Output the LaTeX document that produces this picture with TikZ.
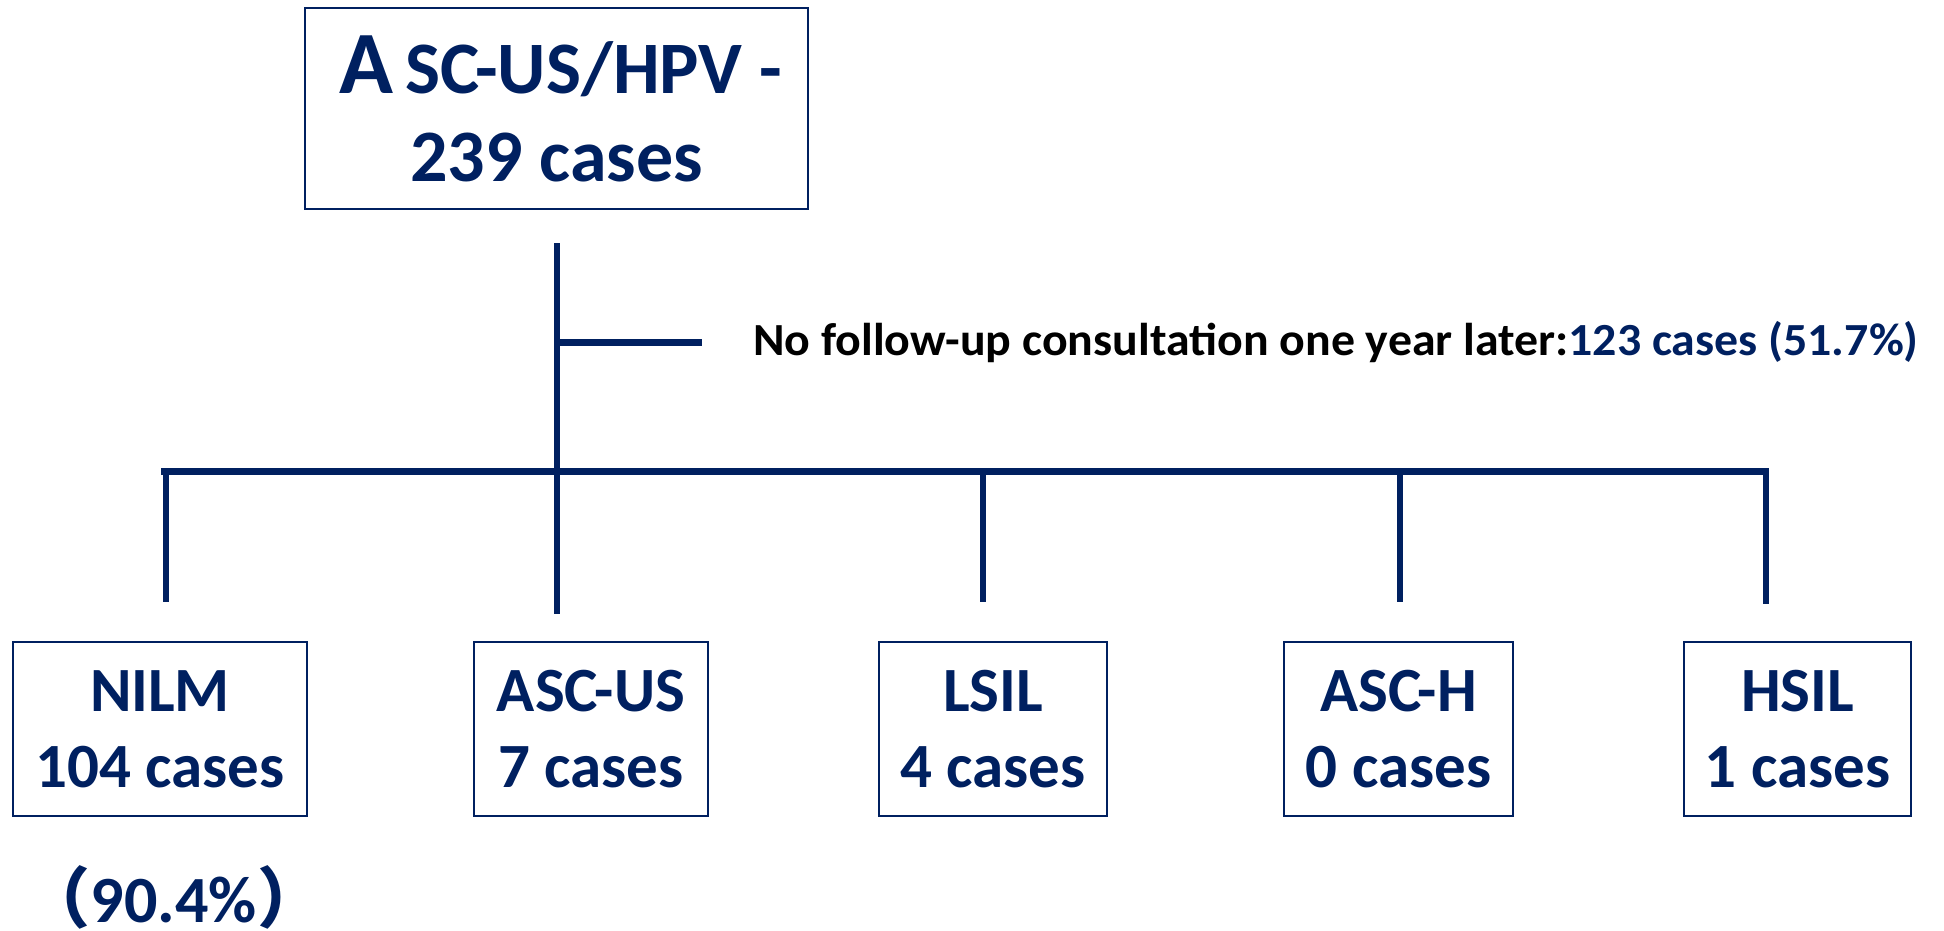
\documentclass[tikz,border=0pt]{standalone}
\usepackage{fontspec}
\setmainfont{Carlito}
\newfontfamily\cjk{Noto Sans CJK SC}
\definecolor{navy}{HTML}{002060}
\begin{document}
\begin{tikzpicture}[x=1pt,y=-1pt,
  box/.style={draw=navy, line width=2pt, text=navy, align=center, inner sep=0pt,
    font=\bfseries\fontsize{63}{76}\selectfont},
  link/.style={draw=navy, line width=6pt},
  barline/.style={draw=navy, line width=7pt},
  note/.style={font=\bfseries\fontsize{46}{52}\selectfont, inner sep=0pt, anchor=base west}]
\useasboundingbox (0,0) rectangle (1944,931);
% top box
\node[box, minimum width=503pt, minimum height=201pt, font=\bfseries\fontsize{74}{88}\selectfont]
  (top) at (556.5,108.5) {\hspace*{8pt}{\fontsize{89}{88}\selectfont A}\hspace{12pt}SC-US/HPV -\\239 cases};
% bottom boxes
\node[box, minimum width=294pt, minimum height=174pt] (nilm) at (160,729) {NILM\\104 cases};
\node[box, minimum width=234pt, minimum height=174pt] (ascus) at (591,729) {ASC-US\\7 cases};
\node[box, minimum width=228pt, minimum height=174pt] (lsil) at (993,729) {LSIL\\4 cases};
\node[box, minimum width=229pt, minimum height=174pt] (asch) at (1398.5,729) {ASC-H\\0 cases};
\node[box, minimum width=227pt, minimum height=174pt] (hsil) at (1797.5,729) {HSIL\\1 cases};
\node[text=navy, font=\bfseries\fontsize{66}{76}\selectfont, inner sep=0pt, anchor=base] (pct) at (174,922) {{\cjk（}90.4\%{\cjk）}};
% connectors
\coordinate (ttop) at (557,243);
\coordinate (side) at (557,342);
\coordinate (sideend) at (702,342);
\coordinate (barL) at (161,471.5);
\coordinate (barR) at (1769,471.5);
\coordinate (b1t) at (165.5,468);  \coordinate (b1b) at (165.5,602);
\coordinate (b2b) at (557,614);
\coordinate (b3t) at (983,468);  \coordinate (b3b) at (983,602);
\coordinate (b4t) at (1400,468); \coordinate (b4b) at (1400,602);
\coordinate (b5t) at (1766,468); \coordinate (b5b) at (1766,604);
\draw[link] (ttop) -- (b2b);
\draw[barline] (side) -- (sideend);
\draw[barline] (barL) -- (barR);
\draw[link] (b1t) -- (b1b);
\draw[link] (b3t) -- (b3b);
\draw[link] (b4t) -- (b4b);
\draw[link] (b5t) -- (b5b);
\node[note] (nofu) at (753,355) {\scalebox{1.04}[1]{No follow-up consultation one year later:\textcolor{navy}{123 cases (51.7\%)}}};
\end{tikzpicture}
\end{document}
